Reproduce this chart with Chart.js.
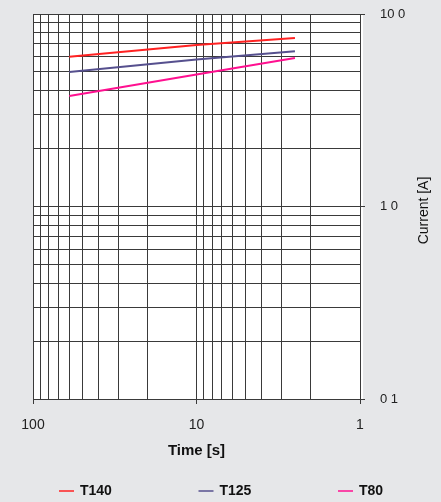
<!DOCTYPE html>
<html>
<head>
<meta charset="utf-8">
<script src="https://cdn.jsdelivr.net/npm/chart.js@4"></script>
<style>
  body { margin: 0; background: #e6e7e9; }
  #wrap { width: 441px; height: 502px; }
</style>
</head>
<body>
<div id="wrap"><canvas id="canvas" width="441" height="502"></canvas></div>
<script>
// time [s] at which each curve is sampled
var times = [60, 10, 2.5];
var t140 = [6.0, 6.9, 7.5];
var t125 = [5.0, 5.8, 6.4];
var t80 = [3.75, 4.85, 5.9];

var names = ['T140', 'T125', 'T80'];
var colors = ['#ff2222', '#56508e', '#ff1090'];

// gridlines (log decades) and which ones get a label
var xGrid = [1, 2, 3, 4, 5, 6, 7, 8, 9, 10, 20, 30, 40, 50, 60, 70, 80, 90, 100];
var xLabels = { 1: '1', 10: '10', 100: '100' };
var yGrid = [0.1, 0.2, 0.3, 0.4, 0.5, 0.6, 0.7, 0.8, 0.9, 1, 2, 3, 4, 5, 6, 7, 8, 9, 10];
var yLabels = { 0.1: '0 1', 1: '1 0', 10: '10 0' };

function pts(vals) {
    return times.map(function(t, i) { return { x: t, y: vals[i] }; });
}

var gridCol = '#3a3a3a';

var extras = {
    id: 'extras',
    beforeDraw: function(chart) {
        var a = chart.chartArea, ctx = chart.ctx;
        ctx.save();
        ctx.fillStyle = '#ffffff';
        ctx.fillRect(a.left, a.top, a.right - a.left + 3, a.bottom - a.top);
        ctx.restore();
    },
    afterDraw: function(chart) {
        var a = chart.chartArea, ctx = chart.ctx;
        ctx.save();
        // y axis title, reading bottom-to-top
        ctx.translate(424, (a.top + a.bottom) / 2 + 4);
        ctx.rotate(-Math.PI / 2);
        ctx.fillStyle = '#111';
        ctx.font = '14px "Liberation Sans", Arial, sans-serif';
        ctx.textAlign = 'center';
        ctx.textBaseline = 'middle';
        ctx.fillText('Current [A]', 0, 0);
        ctx.restore();

        // legend row
        ctx.save();
        ctx.font = 'bold 14px "Liberation Sans", Arial, sans-serif';
        ctx.textBaseline = 'middle';
        chart.data.datasets.forEach(function(ds, i) {
            var x = 59 + i * 139.5, y = 491;
            ctx.strokeStyle = ds.borderColor;
            ctx.lineWidth = 1.5;
            ctx.beginPath();
            ctx.moveTo(x, y);
            ctx.lineTo(x + 15, y);
            ctx.stroke();
            ctx.fillStyle = '#111';
            ctx.fillText(ds.label, x + 21, y);
        });
        ctx.restore();
    }
};

var ctx = document.getElementById('canvas').getContext('2d');
var myChart = new Chart(ctx, {
    type: 'line',
    data: {
        datasets: [t140, t125, t80].map(function(vals, i) {
            return {
                label: names[i],
                data: pts(vals),
                borderColor: colors[i],
                backgroundColor: colors[i],
                borderWidth: 2,
                pointRadius: 0,
                tension: 0
            };
        })
    },
    options: {
        responsive: false,
        animation: false,
        layout: { padding: { left: 33, top: 14, right: 0, bottom: 41 } },
        plugins: {
            legend: { display: false },
            tooltip: { enabled: false }
        },
        scales: {
            x: {
                type: 'logarithmic',
                reverse: true,
                min: 1,
                max: 100,
                afterBuildTicks: function(scale) {
                    scale.ticks = xGrid.map(function(v) { return { value: v }; });
                },
                afterFit: function(scale) {
                    scale.height = 62;
                    scale.paddingLeft = 0;
                    scale.paddingRight = 0;
                },
                grid: {
                    color: gridCol,
                    tickLength: 5,
                    tickColor: function(c) {
                        return c.tick && xLabels[c.tick.value] ? gridCol : 'transparent';
                    }
                },
                border: { color: gridCol },
                ticks: {
                    autoSkip: false,
                    maxRotation: 0,
                    padding: 13,
                    color: '#222',
                    font: { family: '"Liberation Sans", Arial, sans-serif', size: 14 },
                    callback: function(v) { return xLabels[v] || ''; }
                },
                title: {
                    display: true,
                    text: 'Time [s]',
                    color: '#111',
                    font: { family: '"Liberation Sans", Arial, sans-serif', size: 15, weight: 'bold' },
                    padding: { top: 0, bottom: 1 }
                }
            },
            y: {
                type: 'logarithmic',
                position: 'right',
                min: 0.1,
                max: 10,
                afterBuildTicks: function(scale) {
                    scale.ticks = yGrid.map(function(v) { return { value: v }; });
                },
                afterFit: function(scale) {
                    scale.width = 81;
                    scale.paddingTop = 0;
                    scale.paddingBottom = 0;
                },
                grid: {
                    color: gridCol,
                    tickLength: 5,
                    tickColor: function(c) {
                        return c.tick && yLabels[c.tick.value] ? gridCol : 'transparent';
                    }
                },
                border: { color: gridCol },
                ticks: {
                    autoSkip: false,
                    padding: 15,
                    color: '#222',
                    font: { family: '"Liberation Sans", Arial, sans-serif', size: 13 },
                    callback: function(v) { return yLabels[v] || ''; }
                }
            }
        }
    },
    plugins: [extras]
});
</script>
</body>
</html>
